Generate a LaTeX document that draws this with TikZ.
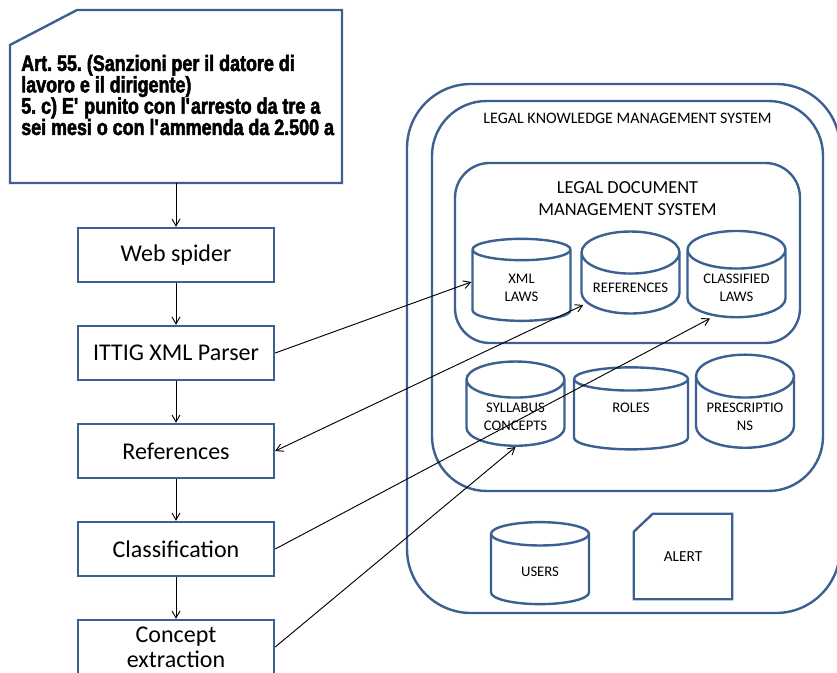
\documentclass[tikz,border=0pt]{standalone}
\usepackage{fontspec}
\setmainfont{Carlito}
\newfontfamily\artfont{Liberation Sans}[FakeStretch=0.8, BoldFeatures={FakeBold=2.2}]
\usetikzlibrary{shapes.geometric, arrows.meta, positioning}
\definecolor{boxblue}{RGB}{59,96,145}

\begin{document}
\begin{tikzpicture}[x=0.75pt, y=-0.75pt, node distance=73.5pt, >={Straight Barb[angle=60:6pt]}]

    \tikzstyle{process} = [rectangle, minimum width=147pt, minimum height=40.5pt, text centered, draw=boxblue, line width=1.8pt, font=\fontsize{18}{19}\selectfont]
    \tikzstyle{database} = [cylinder, shape border rotate=90, aspect=0.5, draw=boxblue, line width=1.8pt, minimum width=73.5pt, minimum height=61.5pt, align=center, font=\fontsize{11}{13.5}\selectfont]
    \tikzstyle{system} = [rectangle, draw=boxblue, line width=1.8pt]
    \tikzstyle{outline} = [draw=boxblue, line width=1.8pt]
    \tikzstyle{arrow} = [line width=0.7pt, ->]

    \useasboundingbox (0,0) rectangle (837,673);

    % Source text
    \draw [outline] (10,45) -- (77,10) -- (342,10) -- (342,183) -- (10,183) -- cycle;
    \coordinate (articlefoot) at (176,183);
    \node (article) [anchor=base west, inner sep=0pt, text width=246pt, align=left, font=\frenchspacing\artfont\bfseries\fontsize{16.8}{16}\selectfont] at (21,71) {\spaceskip=0.22em plus 0.1em\relax Art. 55. (Sanzioni per il datore di\\lavoro e il dirigente)\\5. c) E\textquotesingle{} punito con l\textquotesingle arresto da tre a\\sei mesi o con l\textquotesingle ammenda da 2.500 a};

    % Pipeline
    \node (spider) [process] at (176,255) {Web spider};
    \node (ittig) [process, below of=spider] {ITTIG XML Parser};
    \node (refs) [process, below of=ittig] {References};
    \node (classif) [process, below of=refs] {Classification};
    \node (concept) [process, below of=classif, align=center, inner ysep=1pt] {Concept\\extraction};

    % Systems
    \node (outer) [system, rounded corners=48pt, minimum width=324.75pt, minimum height=396.75pt] at (623.5,348.5) {};
    \node (lkms) [system, rounded corners=41pt, minimum width=293.25pt, minimum height=292.5pt,
        label={[anchor=center, yshift=-14.25pt, font=\fontsize{12}{14}\selectfont]north:LEGAL KNOWLEDGE MANAGEMENT SYSTEM}] at (627.5,296) {};
    \node (ldms) [system, rounded corners=26pt, minimum width=258.75pt, minimum height=135pt,
        label={[anchor=center, yshift=-27.75pt, align=center, font=\fontsize{13.8}{16.5}\selectfont]north:LEGAL DOCUMENT\\MANAGEMENT SYSTEM}] at (627.5,253) {};

    % Stores
    \node (xmllaws) [database] at (521.5,288) {XML\\LAWS};
    \node (refdb) [database] at (630.5,288) {REFERENCES};
    \node (classdb) [database] at (736.5,288) {CLASSIFIED\\LAWS};
    \node (syllabus) [database] at (515.5,417) {SYLLABUS\\CONCEPTS};
    \node (roles) [database, minimum width=85.5pt] at (631,417) {ROLES\\~};
    \node (prescr) [database] at (745,417) {PRESCRIPTIO\\NS};
    \node (users) [database] at (540,572) {USERS};
    \node (alert) [minimum width=73.5pt, minimum height=63.75pt, font=\fontsize{11.5}{13.5}\selectfont] at (683,556.5) {ALERT};
    \draw [outline] ([yshift=-13.5pt]alert.north west) -- ([xshift=14.25pt]alert.north west) -- (alert.north east) -- (alert.south east) -- (alert.south west) -- cycle;

    % Arrows
    \draw [arrow] (articlefoot) -- (spider);
    \draw [arrow] (spider) -- (ittig);
    \draw [arrow] (ittig) -- (refs);
    \draw [arrow] (refs) -- (classif);
    \draw [arrow] (classif) -- (concept);
    \draw [arrow] (ittig.east) -- ([yshift=4.5pt]xmllaws.west);
    \draw [arrow, <->] (refs.east) -- ([xshift=2.25pt, yshift=-12.75pt]refdb.west);
    \draw [arrow] (classif.east) -- ([xshift=-19.9pt]classdb.south);
    \draw [arrow] (concept.east) -- (syllabus.south);

\end{tikzpicture}
\end{document}
